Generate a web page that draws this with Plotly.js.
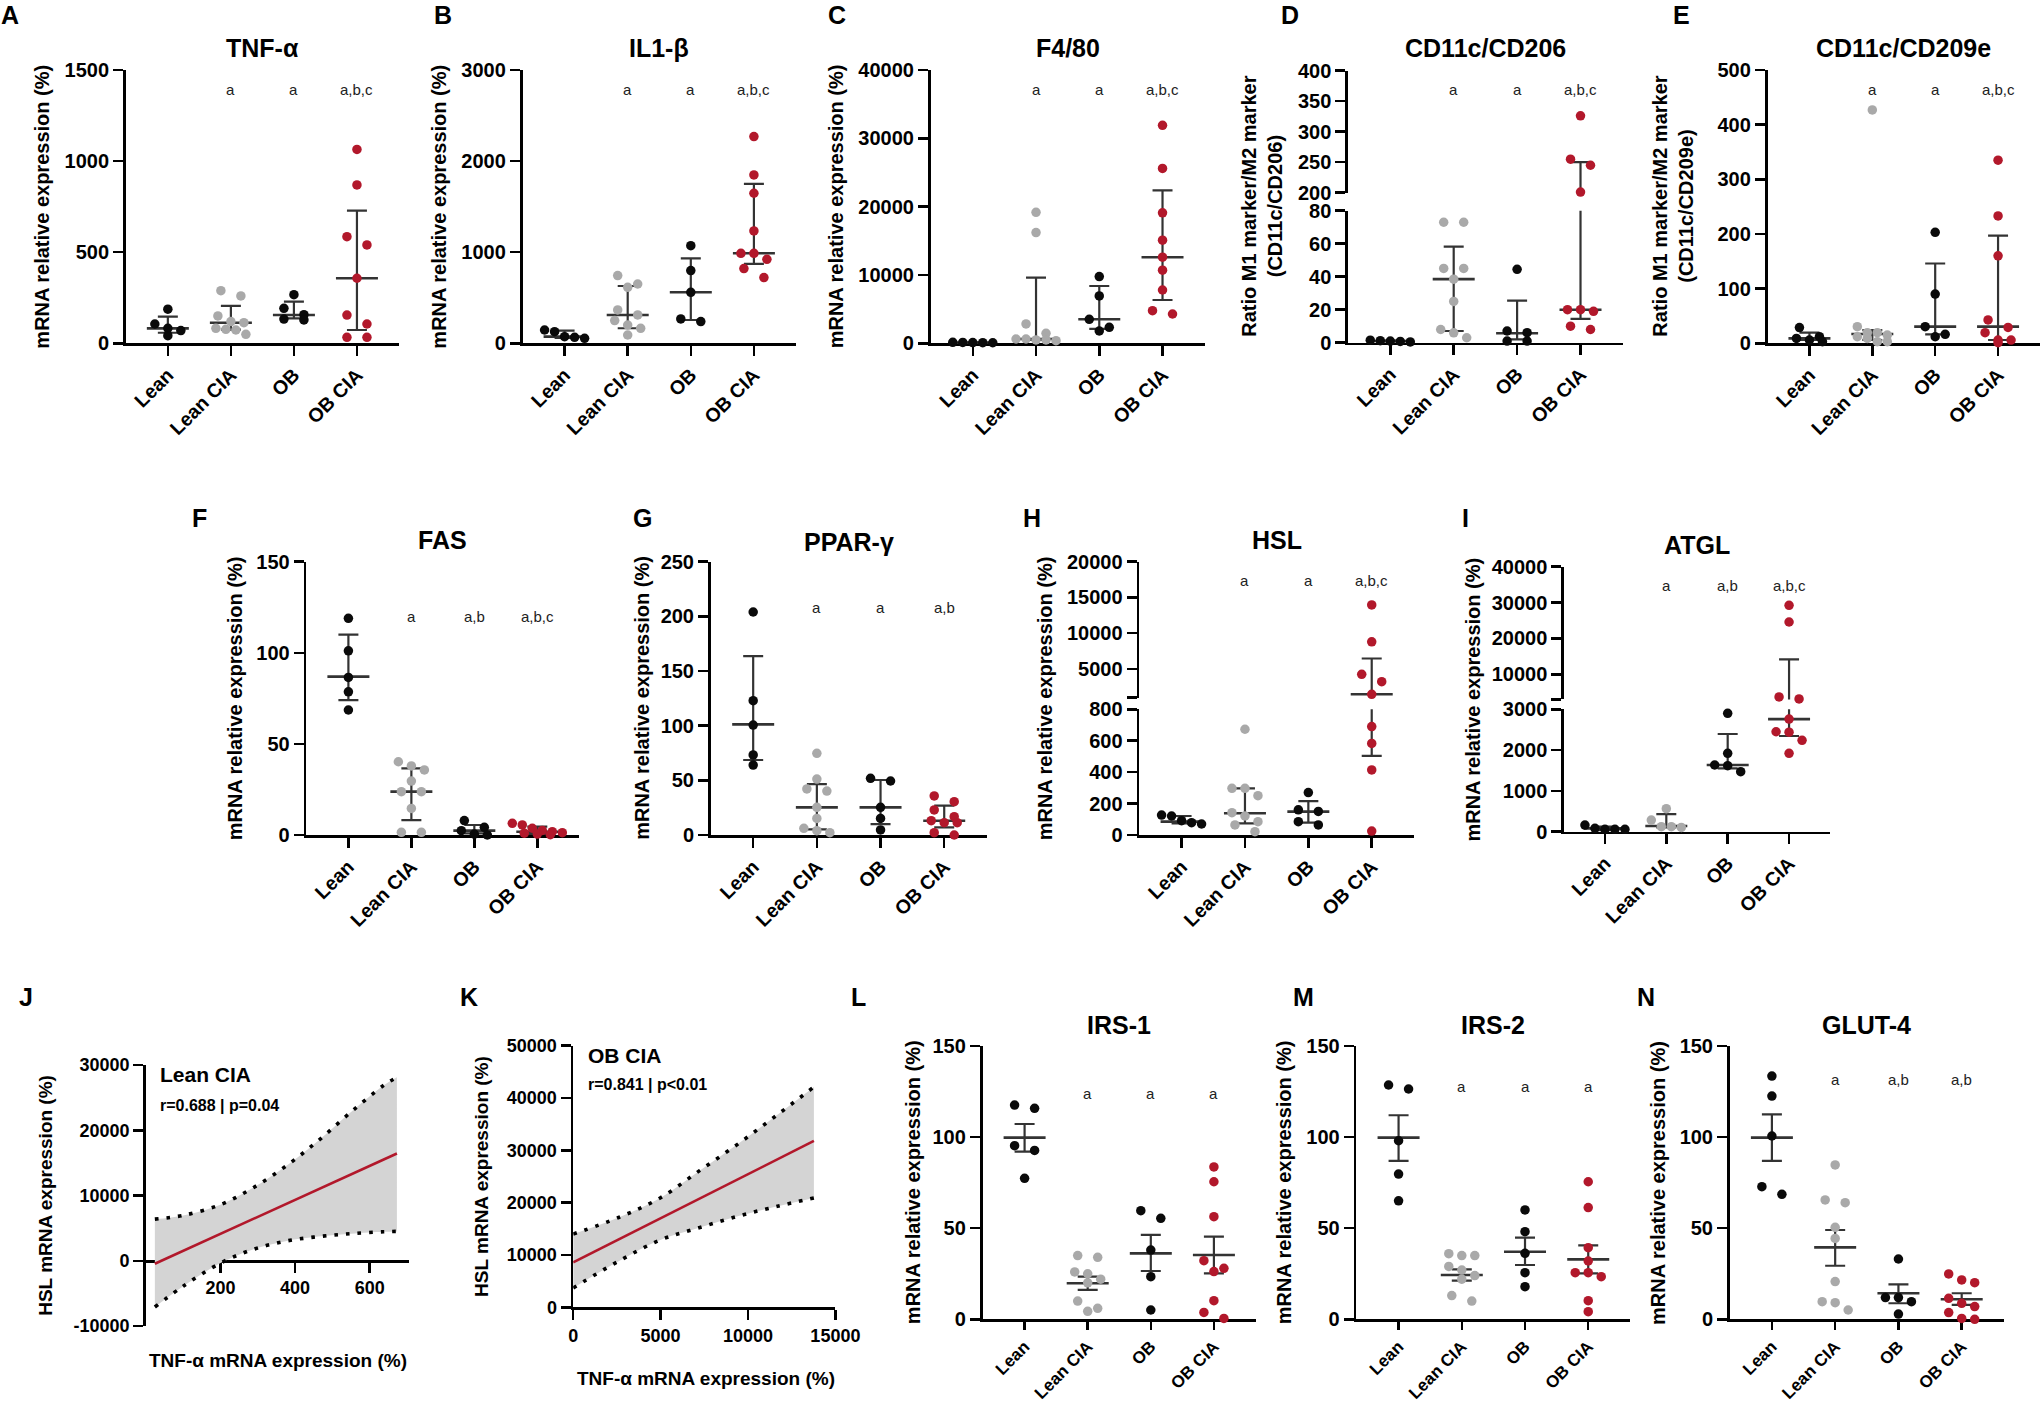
<!DOCTYPE html>
<html><head><meta charset="utf-8">
<script src="https://cdn.plot.ly/plotly-3.0.1.min.js"></script>
<style>body{margin:0;background:#fff}</style></head>
<body><div id="chart" style="width:2041px;height:1404px"></div>
<script>
// ---------------- DATA ----------------
const GROUPS = ['Lean', 'Lean CIA', 'OB', 'OB CIA'];

// A  TNF-alpha (median, IQR)
const tnfPts = [[187,106,82,70,42],[289,260,150,119,113,82,77,73,49],[267,192,157,133,128],[1064,869,585,540,357,155,106,33,33]];
const tnfMid = [82,113,155,357], tnfLo = [58,75,137,73], tnfHi = [146,205,229,728];
const tnfSig = ['', 'a', 'a', 'a,b,c'];
// B  IL1-beta
const il1Pts = [[146,128,73,66,55],[743,651,615,366,311,249,201,165,91],[1072,798,560,267,238],[2269,1848,1647,1233,988,988,922,820,721]];
const il1Mid = [73,311,560,988], il1Lo = [60,165,256,871], il1Hi = [139,629,933,1749];
const il1Sig = ['', 'a', 'a', 'a,b,c'];
// C  F4/80
const f480Pts = [[150,120,100,90,80],[19170,16200,2830,1460,630,630,490,490,390],[9760,6930,3510,2340,1800],[31900,25600,19100,15100,12600,10700,7800,4780,4290]];
const f480Mid = [100,630,3510,12600], f480Lo = [90,490,2100,6340], f480Hi = [120,9610,8390,22390];
const f480Sig = ['', 'a', 'a', 'a,b,c'];
// D  CD11c/CD206
const cd206Pts = [[1.5,1.2,1.0,0.8,0.5],[73,73,45,45,38.5,25,8,6,3],[44.5,7.1,6.1,1,1],[326,255,245,201,20,20,19,10,8]];
const cd206Mid = [1,38.5,5.7,20], cd206Lo = [0.8,7.1,2,14.4], cd206Hi = [1.2,58.2,25.5,250];
const cd206Sig = ['', 'a', 'a', 'a,b,c'];
// E  CD11c/CD209e
const cd209Pts = [[28.7,12.2,9,6,3],[427,30.5,19.5,19.5,15,12,9,3,3],[203,90,30.5,16.5,12],[335,233,160,42.7,29,19.5,6,6,1.2]];
const cd209Mid = [9,17,30.5,30.5], cd209Lo = [6,6,16.5,6], cd209Hi = [19.5,24,146,197];
const cd209Sig = ['', 'a', 'a', 'a,b,c'];
// F  FAS
const fasPts = [[118.9,101.1,86.5,78.6,68.6],[40.2,37.9,35.7,29.6,23.8,23.8,14.6,1.5,1.5],[7.9,4.2,2.4,0.5,0],[6.4,5.5,3.7,2.5,1.8,1.3,1.0,0.5,0.2]];
const fasMid = [86.9,23.8,2.4,1.8], fasLo = [74,8.2,0.9,0.5], fasHi = [110,36.6,5.5,4.6];
const fasSig = ['', 'a', 'a,b', 'a,b,c'];
// G  PPAR-gamma
const pparPts = [[204,122.9,100.6,73.2,64],[74.7,51.2,42.1,40.2,25.3,15.2,6.1,4,2.1],[51.8,49.4,25.3,15.2,4.6],[35.7,30.5,22.9,16.8,13.1,11.3,11.3,2.1,0]];
const pparMid = [101.2,25.3,25.3,13.1], pparLo = [68.6,5.2,10,7], pparHi = [163.7,46.6,50.3,26.8];
const pparSig = ['', 'a', 'a', 'a,b'];
// H  HSL
const hslPts = [[127,121,91,78.5,70],[673,297,297,250,142,121,85,64,21],[270,160,150,85,64],[13950,8800,4260,3220,1460,690,583,414,25]];
const hslMid = [85,138,148.5,1460], hslLo = [74,74,78.5,503], hslHi = [121,297,216,6470];
const hslSig = ['', 'a', 'a', 'a,b,c'];
// I  ATGL
const atglPts = [[163,82,57,57,57],[564,286,123,123,106],[2902,1921,1635,1618,1471],[29220,24580,3690,3130,2760,2450,2440,2240,1920]];
const atglMid = [82,139,1635,2760], atglLo = [41,106,1553,2346], atglHi = [123,433,2395,14178];
const atglSig = ['', 'a', 'a,b', 'a,b,c'];
// L  IRS-1 (mean, SEM)
const irs1Pts = [[117.6,115.8,95.3,92.7,77.4],[35,34,26,25,22,20,10,6,4.4],[59.6,55.4,38,23.4,5.1],[83.6,75.5,56.3,32.2,28,26.2,10.2,3.8,0.5]];
const irs1Mid = [99.7,19.8,36.2,35.3], irs1Lo = [92,16.1,26.5,25.2], irs1Hi = [107.2,23.4,46.3,45.4];
const irs1Sig = ['', 'a', 'a', 'a'];
// M  IRS-2
const irs2Pts = [[128.6,126.4,98,79.7,65],[36,35,35,29,27,24,22,13,10],[60,48.1,36.2,25.6,17.9],[75.5,61.3,39.3,32,25.6,25.6,23.4,10.2,4.2]];
const irs2Mid = [99.7,24.3,37.1,32.9], irs2Lo = [87,21.2,29.8,25.2], irs2Hi = [112,27.4,44.8,40.6];
const irs2Sig = ['', 'a', 'a', 'a'];
// N  GLUT-4
const glutPts = [[133.5,122.5,100.6,72.8,68.6],[84.7,65.5,64,50.5,44.4,20.7,9.7,9.1,5.1],[33.1,11.9,11.9,9.7,2.9],[24.9,21.6,20.1,11.5,8.8,7,3.7,0.5,0]];
const glutMid = [99.7,39.5,14.3,11], glutLo = [86.9,29.4,8.8,7.9], glutHi = [112.5,49,19.2,14.3];
const glutSig = ['', 'a', 'a,b', 'a,b'];

// J  Lean CIA correlation (fit line + 95% band)
const jLineX = [24, 673], jLineY = [-460, 16430];
const jBandX = [24, 100, 200, 285, 374, 462, 550, 638, 673];
const jBandUp = [6380, 6950, 8600, 11100, 14440, 18400, 22800, 26900, 28110];
const jBandLo = [-7090, -3900, -360, 1690, 3000, 3700, 4150, 4450, 4500];
// K  OB CIA correlation
const kLineX = [0, 13770], kLineY = [8600, 31800];
const kBandX = [0, 2600, 4975, 7250, 9460, 11620, 13770];
const kBandUp = [14000, 17170, 20900, 26170, 31290, 36650, 42120];
const kBandLo = [3700, 8820, 12860, 15250, 17450, 19260, 20900];

// ---------------- STYLE / LAYOUT ----------------
const W = 2041, H = 1404;
const FONT = 'Liberation Sans, Arial, Helvetica, sans-serif';
const COLORS = ['#0a0a0a', '#a9a9a9', '#0a0a0a', '#b2182b'];
const BAR = '#333333';
const fx = p => p / W, fy = p => 1 - p / H;
const id = n => n === 1 ? '' : String(n);
const seq = (a, b, s) => { const r = []; for (let v = a; v <= b + 1e-9; v += s) r.push(v); return r; };

const AX = {
  showline: true, linecolor: '#000', linewidth: 2.7, ticks: 'outside', ticklen: 10,
  tickwidth: 2.5, tickcolor: '#000', showgrid: false, zeroline: false, fixedrange: true,
  layer: 'below traces',
  tickfont: { family: FONT, size: 20, color: '#000', weight: 'bold' }
};
const YT = 'mRNA relative expression (%)';

const panels = [
  { L:'A', lx:10, ly:15, title:'TNF-α', ty:48, P:tnfPts, M:tnfMid, lo:tnfLo, hi:tnfHi, S:tnfSig, sy:89, x0:125.8, x1:399, yt:YT, ytx:42, xfs:19.5,
    segs:[{y0:70, y1:343.3, range:[0,1500], tv:seq(0,1500,500)}] },
  { L:'B', lx:443, ly:15, title:'IL1-β', ty:48, P:il1Pts, M:il1Mid, lo:il1Lo, hi:il1Hi, S:il1Sig, sy:89, x0:522.5, x1:796, yt:YT, ytx:439, xfs:19.5,
    segs:[{y0:70, y1:343.3, range:[0,3000], tv:seq(0,3000,1000)}] },
  { L:'C', lx:837, ly:15, title:'F4/80', ty:48, P:f480Pts, M:f480Mid, lo:f480Lo, hi:f480Hi, S:f480Sig, sy:89, x0:930.6, x1:1204.7, yt:YT, ytx:835.7, xfs:19.5,
    segs:[{y0:70, y1:343.3, range:[0,40000], tv:seq(0,40000,10000)}] },
  { L:'D', lx:1290, ly:15, title:'CD11c/CD206', ty:48, P:cd206Pts, M:cd206Mid, lo:cd206Lo, hi:cd206Hi, S:cd206Sig, sy:89, x0:1348, x1:1622.8, xfs:19.5,
    yt:'Ratio M1 marker/M2 marker<br>(CD11c/CD206)', ytx:1262,
    segs:[{y0:210.7, y1:342.7, range:[0,80], tv:seq(0,80,20)}, {y0:70.7, y1:192.7, range:[200,400], tv:seq(200,400,50)}] },
  { L:'E', lx:1681, ly:15, title:'CD11c/CD209e', ty:48, P:cd209Pts, M:cd209Mid, lo:cd209Lo, hi:cd209Hi, S:cd209Sig, sy:89, x0:1767.5, x1:2040, xfs:19.5,
    yt:'Ratio M1 marker/M2 marker<br>(CD11c/CD209e)', ytx:1673,
    segs:[{y0:70, y1:343.3, range:[0,500], tv:seq(0,500,100)}] },
  { L:'F', lx:199.7, ly:518, title:'FAS', ty:540, P:fasPts, M:fasMid, lo:fasLo, hi:fasHi, S:fasSig, sy:616.7, x0:306.4, x1:579.3, yt:YT, ytx:235, xfs:19.5,
    segs:[{y0:561.7, y1:835, range:[0,150], tv:seq(0,150,50)}] },
  { L:'G', lx:642, ly:518, title:'PPAR-γ', ty:541.7, P:pparPts, M:pparMid, lo:pparLo, hi:pparHi, S:pparSig, sy:607.3, x0:710.7, x1:986.7, yt:YT, ytx:642.5, xfs:19.5,
    segs:[{y0:561.7, y1:835, range:[0,250], tv:seq(0,250,50)}] },
  { L:'H', lx:1032, ly:518, title:'HSL', ty:540, P:hslPts, M:hslMid, lo:hslLo, hi:hslHi, S:hslSig, sy:580.7, x0:1139.3, x1:1414, yt:YT, ytx:1045, xfs:19.5,
    segs:[{y0:709.3, y1:835, range:[0,800], tv:seq(0,800,200)},
          {y0:561.7, y1:697.6, range:[1000,20000], tv:[1000,5000,10000,15000,20000], tt:['','5000','10000','15000','20000']}] },
  { L:'I', lx:1465.5, ly:518, title:'ATGL', ty:545, P:atglPts, M:atglMid, lo:atglLo, hi:atglHi, S:atglSig, sy:585, x0:1564, x1:1830, yt:YT, ytx:1473.4, xfs:19.5,
    segs:[{y0:709.3, y1:831.7, range:[0,3000], tv:seq(0,3000,1000)},
          {y0:566.7, y1:699.4, range:[3000,40000], tv:[3000,10000,20000,30000,40000], tt:['','10000','20000','30000','40000']}] },
  { L:'L', lx:858, ly:996.7, title:'IRS-1', ty:1025, P:irs1Pts, M:irs1Mid, lo:irs1Lo, hi:irs1Hi, S:irs1Sig, sy:1093.3, x0:982.5, x1:1256, yt:YT, ytx:912.5, xfs:17, xlen:8,
    segs:[{y0:1046, y1:1319.3, range:[0,150], tv:seq(0,150,50)}] },
  { L:'M', lx:1303, ly:996.7, title:'IRS-2', ty:1025, P:irs2Pts, M:irs2Mid, lo:irs2Lo, hi:irs2Hi, S:irs2Sig, sy:1086.7, x0:1356.4, x1:1630.4, yt:YT, ytx:1283.7, xfs:17, xlen:8,
    segs:[{y0:1046, y1:1319.3, range:[0,150], tv:seq(0,150,50)}] },
  { L:'N', lx:1645.8, ly:996.7, title:'GLUT-4', ty:1025, P:glutPts, M:glutMid, lo:glutLo, hi:glutHi, S:glutSig, sy:1079.3, x0:1729.7, x1:2003.9, yt:YT, ytx:1657.3, xfs:17, xlen:8,
    segs:[{y0:1046, y1:1319.3, range:[0,150], tv:seq(0,150,50)}] }
];

const data = [];
const ann = [];
const layout = {
  width: W, height: H, margin: {l:0, r:0, t:0, b:0}, paper_bgcolor: '#fff', plot_bgcolor: 'rgba(0,0,0,0)',
  showlegend: false, hovermode: false, font: {family: FONT, color: '#000'}, annotations: ann
};
let axCount = 0;

function addText(text, x, y, size, opts) {
  ann.push(Object.assign({ text, x: fx(x), y: fy(y), xref: 'paper', yref: 'paper', showarrow: false,
    xanchor: 'center', yanchor: 'middle', font: {family: FONT, size, color: '#000'} }, opts || {}));
}

function jitter(vals, toPx, catPx) {
  const order = vals.map((v, i) => i).sort((a, b) => vals[b] - vals[a]);
  const off = new Array(vals.length).fill(0);
  let row = [], top = 0;
  const flush = () => {
    const k = row.length;
    const s = k === 2 ? 20 : (k === 3 ? 13 : 10);
    row.forEach((i, j) => { off[i] = (j - (k - 1) / 2) * s / catPx; });
    row = [];
  };
  order.forEach(i => {
    const py = toPx(vals[i]);
    if (row.length && py - top > 9.5) flush();
    if (!row.length) top = py;
    row.push(i);
  });
  flush();
  return off;
}

panels.forEach(p => {
  const catPx = (p.x1 - p.x0) / 4.334;
  const xr = [-0.667, 3.667];
  const ids = [];
  p.segs.forEach((s, si) => {
    const n = ++axCount; ids.push(n);
    const xa = {domain: [fx(p.x0), fx(p.x1)], range: xr, anchor: 'y' + id(n), fixedrange: true, showgrid: false, zeroline: false};
    if (si === 0) Object.assign(xa, AX, {tickvals: [0,1,2,3], ticktext: GROUPS, tickangle: -45,
      ticklen: p.xlen || 10, tickfont: {family: FONT, size: p.xfs, color: '#000', weight: 'bold'}});
    else Object.assign(xa, {matches: 'x' + id(ids[0]), visible: false});
    layout['xaxis' + id(n)] = xa;
    layout['yaxis' + id(n)] = Object.assign({}, AX, {domain: [fy(s.y1), fy(s.y0)], range: s.range, anchor: 'x' + id(n),
      tickvals: s.tv, ticktext: s.tt || s.tv.map(String)});
  });
  const nSeg = p.segs.length;
  const segOf = v => { for (let i = 0; i < nSeg; i++) if (v <= p.segs[i].range[1]) return i; return nSeg - 1; };
  const toPx = v => { const s = p.segs[segOf(v)]; return s.y1 - (v - s.range[0]) / (s.range[1] - s.range[0]) * (s.y1 - s.y0); };

  for (let g = 0; g < 4; g++) {
    // error bars in every segment (clipped by the subplot)
    ids.forEach(n => {
      data.push({type: 'scatter', mode: 'markers', x: [g], y: [p.M[g]], xaxis: 'x' + id(n), yaxis: 'y' + id(n),
        marker: {size: 2, color: 'rgba(0,0,0,0)'}, hoverinfo: 'skip',
        error_y: {type: 'data', symmetric: false, array: [p.hi[g] - p.M[g]], arrayminus: [p.M[g] - p.lo[g]],
                  color: BAR, thickness: 2.2, width: 10}});
    });
    // median / mean line
    const mn = ids[segOf(p.M[g])];
    data.push({type: 'scatter', mode: 'markers', x: [g], y: [p.M[g]], xaxis: 'x' + id(mn), yaxis: 'y' + id(mn),
      cliponaxis: false, hoverinfo: 'skip',
      marker: {symbol: 'line-ew-open', size: 30, color: BAR, line: {width: 2.6, color: BAR}}});
    // points
    const vals = p.P[g];
    const off = jitter(vals, toPx, catPx);
    ids.forEach((n, si) => {
      const xs = [], ys = [];
      vals.forEach((v, i) => { if (segOf(v) === si) { xs.push(g + off[i]); ys.push(v); } });
      if (!xs.length) return;
      data.push({type: 'scatter', mode: 'markers', x: xs, y: ys, xaxis: 'x' + id(n), yaxis: 'y' + id(n),
        cliponaxis: false, hoverinfo: 'skip', marker: {size: 9.5, color: COLORS[g]}});
    });
    if (p.S[g]) ann.push({text: p.S[g], x: g, xref: 'x' + id(ids[0]), y: fy(p.sy), yref: 'paper', showarrow: false,
      xanchor: 'center', yanchor: 'middle', font: {family: FONT, size: 15, color: '#222'}});
  }
  addText('<b>' + p.L + '</b>', p.lx, p.ly, 25);
  addText('<b>' + p.title + '</b>', (p.x0 + p.x1) / 2, p.ty, 25);
  const yTop = p.segs[nSeg - 1].y0, yBot = p.segs[0].y1;
  addText('<b>' + p.yt + '</b>', p.ytx, (yTop + yBot) / 2, 20, {textangle: -90});
});

// ---------------- J and K correlation panels ----------------
function corrPanel(cfg) {
  const n = ++axCount;
  const xk = 'x' + id(n), yk = 'y' + id(n);
  const tf = {family: FONT, size: 18, color: '#000', weight: 'bold'};
  const xa = Object.assign({}, AX, {domain: [fx(cfg.x0), fx(cfg.x1)], range: cfg.xr, anchor: cfg.xpos ? 'free' : yk,
    tickvals: cfg.xtv, ticktext: cfg.xtv.map(String), tickfont: tf});
  if (cfg.xpos) xa.position = fy(cfg.xpos);
  layout['xaxis' + id(n)] = xa;
  layout['yaxis' + id(n)] = Object.assign({}, AX, {domain: [fy(cfg.y1), fy(cfg.y0)], range: cfg.yr, anchor: xk,
    tickvals: cfg.ytv, ticktext: cfg.ytv.map(String), tickfont: tf});
  const dot = {color: '#000', width: 3.6, dash: '3.6px,8px', shape: 'spline'};
  data.push({type: 'scatter', mode: 'lines', x: cfg.bx, y: cfg.blo, xaxis: xk, yaxis: yk, line: dot, hoverinfo: 'skip'});
  data.push({type: 'scatter', mode: 'lines', x: cfg.bx, y: cfg.bup, xaxis: xk, yaxis: yk, line: dot,
    fill: 'tonexty', fillcolor: '#d4d4d4', hoverinfo: 'skip'});
  data.push({type: 'scatter', mode: 'lines', x: cfg.lx, y: cfg.ly, xaxis: xk, yaxis: yk,
    line: {color: '#b2182b', width: 2.6}, hoverinfo: 'skip'});
  addText('<b>' + cfg.letter + '</b>', cfg.letX, 996.7, 25);
  addText('<b>' + cfg.label + '</b>', cfg.tx, cfg.labY, 21, {xanchor: 'left'});
  addText('<b>' + cfg.stat + '</b>', cfg.tx, cfg.statY, 16, {xanchor: 'left'});
  addText('<b>TNF-α mRNA expression (%)</b>', cfg.xtX, cfg.xtY, 19);
  addText('<b>HSL mRNA expression (%)</b>', cfg.ytX, (cfg.y0 + cfg.y1) / 2, 19, {textangle: -90});
}

corrPanel({letter: 'J', letX: 26, x0: 145.9, x1: 408.7, xr: [0, 704.6], xpos: 1261, xtv: [200, 400, 600],
  y0: 1065, y1: 1326, yr: [-10000, 30000], ytv: [-10000, 0, 10000, 20000, 30000],
  bx: jBandX, bup: jBandUp, blo: jBandLo, lx: jLineX, ly: jLineY,
  label: 'Lean CIA', stat: 'r=0.688 | p=0.04', tx: 158, labY: 1074, statY: 1105,
  xtX: 278, xtY: 1360, ytX: 45.3});
corrPanel({letter: 'K', letX: 469, x0: 573.2, x1: 835.4, xr: [0, 15000], xpos: null, xtv: [0, 5000, 10000, 15000],
  y0: 1045.7, y1: 1307.3, yr: [0, 50000], ytv: [0, 10000, 20000, 30000, 40000, 50000],
  bx: kBandX, bup: kBandUp, blo: kBandLo, lx: kLineX, ly: kLineY,
  label: 'OB CIA', stat: 'r=0.841 | p&lt;0.01', tx: 586, labY: 1055, statY: 1084.5,
  xtX: 705.7, xtY: 1378, ytX: 481.4});

Plotly.newPlot('chart', data, layout, {staticPlot: true});
</script></body></html>
